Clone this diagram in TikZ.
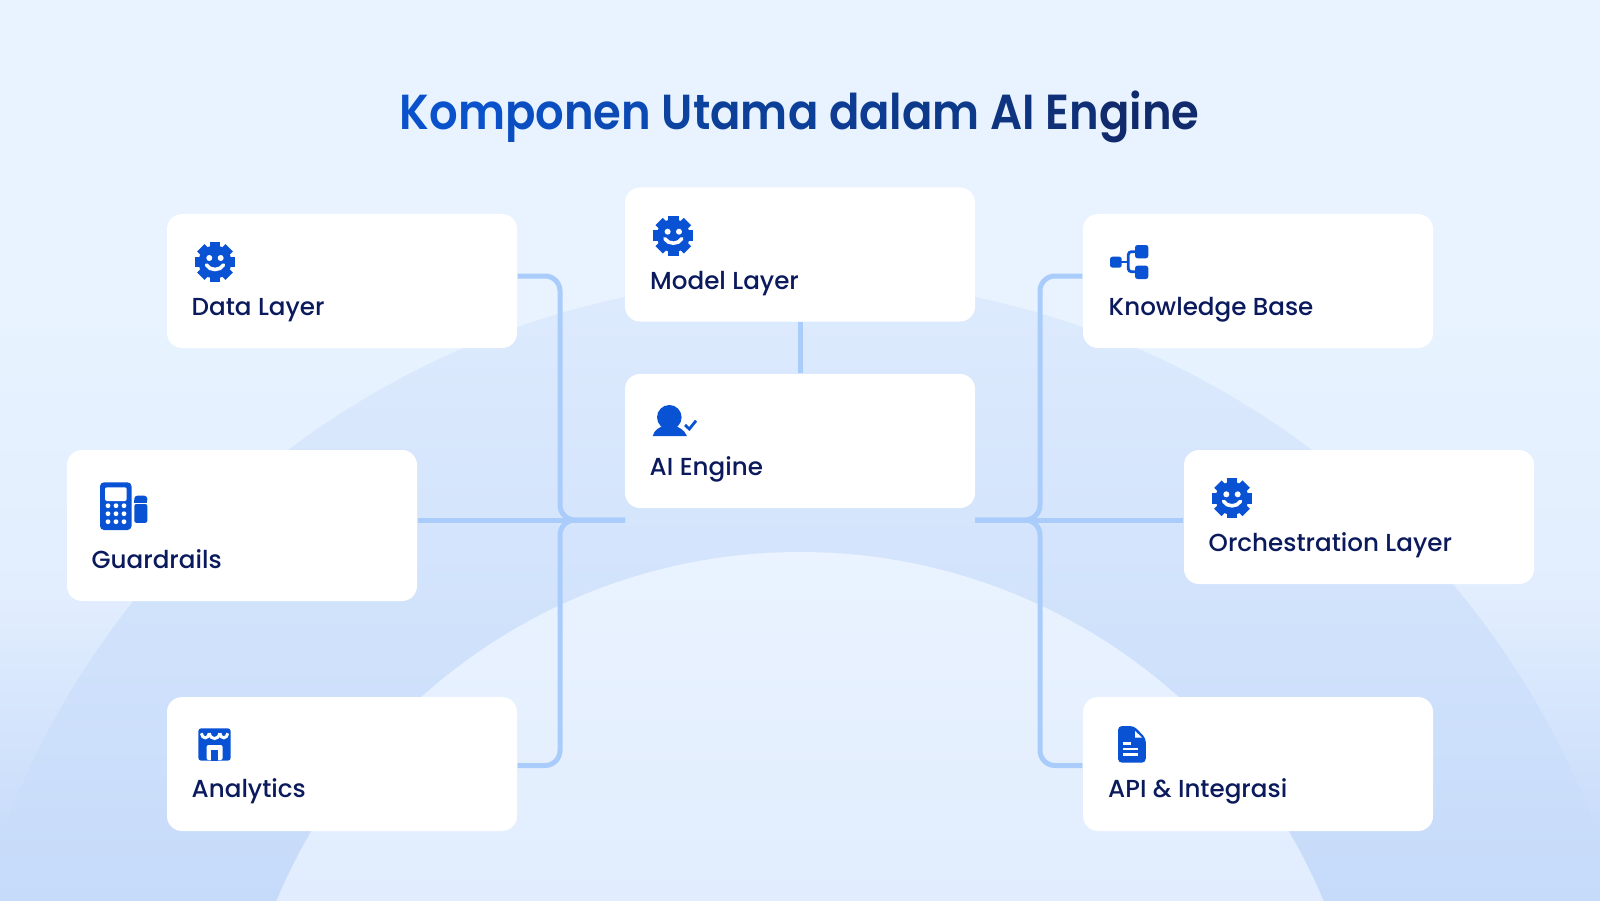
\documentclass[tikz,border=0pt]{standalone}
\usepackage{fontspec}
\setmainfont{Poppins}[UprightFont=* Medium, BoldFont=* SemiBold]
\newfontfamily\titlefont{Poppins SemiBold}[FakeStretch=0.912]
\usetikzlibrary{arrows.meta}

\definecolor{bg_top}{HTML}{E8F3FF}
\definecolor{bg_mid}{HTML}{E2EEFE}
\definecolor{bg_low}{HTML}{C2D7F9}
\definecolor{icon_blue}{HTML}{0A52D4}
\definecolor{text_navy}{HTML}{0B1A5C}
\definecolor{link_blue}{HTML}{A9CCFB}
\definecolor{arc_top}{HTML}{DEEBFD}
\definecolor{arc_mid}{HTML}{D6E6FD}
\definecolor{arc_low}{HTML}{C6DBFA}
\definecolor{dome_top}{HTML}{EAF3FF}
\definecolor{dome_low}{HTML}{E1EDFE}

\pgfdeclareverticalshading{bg_shade}{100bp}{color(0bp)=(bg_low); color(25bp)=(bg_low); color(42bp)=(bg_mid); color(58bp)=(bg_top); color(75bp)=(bg_top); color(100bp)=(bg_top)}

\tikzset{
    gear_icon/.pic={
        \fill[icon_blue] (0,0) circle (.165);
        \foreach \a in {0,45,...,315}
            \fill[icon_blue,rotate=\a] (-.052,.12) rectangle (.052,.2);
        \fill[white] (-.057,.04) circle (.03);
        \fill[white] (.057,.04) circle (.03);
        \draw[white,line width=.036cm,line cap=round] (-.085,-.03) .. controls (-.05,-.09) and (.05,-.09) .. (.085,-.03);
    },
    person_icon/.pic={
        \fill[icon_blue] (0,0) circle (.123);
        \fill[icon_blue] (-.166,-.187) .. controls (-.15,-.12) and (-.09,-.1) .. (-.06,-.085) -- (.06,-.085) .. controls (.09,-.1) and (.15,-.12) .. (.176,-.187) -- cycle;
        \draw[icon_blue,line width=.028cm] (.157,-.077) -- (.2,-.117) -- (.267,-.034);
    },
    calc_icon/.pic={
        \fill[icon_blue,rounded corners=.04cm] (0,0) rectangle (.315,-.477);
        \fill[white,rounded corners=.02cm] (.05,-.05) rectangle (.267,-.187);
        \foreach \x in {.08,.16,.24}
            \foreach \y in {-.234,-.314,-.394}
                \fill[white] (\x,\y) circle (.024);
        \fill[icon_blue,rounded corners=.03cm] (.343,-.205) -- (.343,-.134) -- (.473,-.134) -- (.473,-.205) -- cycle;
        \fill[icon_blue] (.343,-.18) rectangle (.473,-.205);
        \fill[icon_blue,rounded corners=.02cm] (.343,-.217) rectangle (.473,-.405);
    },
    store_icon/.pic={
        \fill[icon_blue,rounded corners=.03cm] (0,0) rectangle (.324,-.324);
        \draw[white,line width=.03cm] (.03,-.05) .. controls (.04,-.11) and (.1,-.11) .. (.11,-.05);
        \draw[white,line width=.03cm] (.11,-.05) .. controls (.125,-.12) and (.2,-.12) .. (.215,-.05);
        \draw[white,line width=.03cm] (.215,-.05) .. controls (.225,-.11) and (.285,-.11) .. (.295,-.05);
        \fill[white,rounded corners=.02cm] (.083,-.317) -- (.083,-.167) -- (.243,-.167) -- (.243,-.317) -- cycle;
        \fill[icon_blue] (.123,-.217) rectangle (.2,-.324);
    },
    tree_icon/.pic={
        \fill[icon_blue,rounded corners=.025cm] (0,-.117) rectangle (.117,-.227);
        \fill[icon_blue,rounded corners=.025cm] (.25,0) rectangle (.383,-.133);
        \fill[icon_blue,rounded corners=.025cm] (.25,-.207) rectangle (.383,-.34);
        \draw[icon_blue,line width=.028cm] (.1,-.17) -- (.183,-.17);
        \draw[icon_blue,line width=.028cm,rounded corners=.03cm] (.25,-.067) -- (.183,-.067) -- (.183,-.267) -- (.25,-.267);
    },
    doc_icon/.pic={
        \fill[icon_blue,rounded corners=.04cm] (0,0) -- (.16,0) -- (.278,-.123) -- (.278,-.367) -- (0,-.367) -- cycle;
        \fill[white] (.17,-.05) -- (.17,-.115) -- (.24,-.115) -- cycle;
        \draw[white,line width=.024cm] (.05,-.173) -- (.125,-.173);
        \draw[white,line width=.024cm] (.05,-.23) -- (.195,-.23);
        \draw[white,line width=.024cm] (.05,-.283) -- (.195,-.283);
    }
}

\begin{document}
\begin{tikzpicture}[
    card/.style={rectangle, fill=white, rounded corners=.15cm, minimum width=3.5cm, minimum height=1.34cm, inner sep=0pt},
    card_text/.style={anchor=base west, inner sep=0pt, text=text_navy, font=\fontsize{7}{9}\selectfont},
    title_text/.style={anchor=base west, inner sep=0pt, font=\titlefont\fontsize{14}{17}\selectfont},
    link_line/.style={draw=link_blue, line width=.05cm, rounded corners=.15cm}
]
    \useasboundingbox (0,0) rectangle (16,9);
    % Background
    \shade[shading=bg_shade] (0,0) rectangle (16,9);
    \begin{scope}
        \clip (8,-2.3) circle (8.51);
        \shade[top color=arc_top, middle color=arc_mid, bottom color=arc_low] (0,0) rectangle (16,6.3);
    \end{scope}
    \begin{scope}
        \clip (8,-2.19) circle (5.67);
        \shade[top color=dome_top, bottom color=dome_low] (0,0) rectangle (16,3.6);
    \end{scope}
    % Title
    \node[title_text] (title) at (3.99,7.705) {\textcolor[HTML]{0A52CC}{Kom}\textcolor[HTML]{0A4EC2}{po}\textcolor[HTML]{0B49B4}{nen} \textcolor[HTML]{0C439F}{Ut}\textcolor[HTML]{0C3F98}{ama} \textcolor[HTML]{0D3C92}{da}\textcolor[HTML]{0D398B}{lam} \textcolor[HTML]{0E3480}{AI} \textcolor[HTML]{0F3076}{En}\textcolor[HTML]{102A6C}{gine}};
    % Cards
    \node[card] (data) at (3.42,6.19) {};
    \node[card] (model) at (8,6.455) {};
    \node[card] (engine) at (8,4.59) {};
    \node[card, minimum height=1.51cm] (guard) at (2.42,3.745) {};
    \node[card] (analytics) at (3.42,1.36) {};
    \node[card] (knowledge) at (12.58,6.19) {};
    \node[card] (orch) at (13.59,3.83) {};
    \node[card] (api) at (12.58,1.36) {};
    % Labels
    \node[card_text] (data_text) at (1.91,5.85) {Data Layer};
    \node[card_text] (model_text) at (6.495,6.11) {Model Layer};
    \node[card_text] (engine_text) at (6.49,4.25) {AI Engine};
    \node[card_text] (guard_text) at (.91,3.317) {Guardrails};
    \node[card_text] (analytics_text) at (1.91,1.025) {Analytics};
    \node[card_text] (knowledge_text) at (11.08,5.85) {Knowledge Base};
    \node[card_text] (orch_text) at (12.08,3.49) {Orchestration Layer};
    \node[card_text] (api_text) at (11.075,1.023) {API \& Integrasi};
    % Icons
    \pic at (2.15,6.38) {gear_icon};
    \pic at (6.733,6.643) {gear_icon};
    \pic at (12.32,4.017) {gear_icon};
    \pic at (6.693,4.827) {person_icon};
    \pic at (1,4.177) {calc_icon};
    \pic at (1.983,1.717) {store_icon};
    \pic at (11.1,6.55) {tree_icon};
    \pic at (11.18,1.74) {doc_icon};
    % Junctions
    \coordinate (hub_l) at (6.25,3.8);
    \coordinate (hub_r) at (9.75,3.8);
    \coordinate (bus_l) at (5.6,3.8);
    \coordinate (bus_r) at (10.4,3.8);
    % Links
    \draw[link_line] (model) -- (engine);
    \draw[link_line] ([yshift=.05cm]data.east) -| (bus_l) -- (hub_l);
    \draw[link_line] ([yshift=-.015cm]analytics.east) -| (bus_l) -- (hub_l);
    \draw[link_line] (guard.east |- hub_l) -- (hub_l);
    \draw[link_line] ([yshift=.05cm]knowledge.west) -| (bus_r) -- (hub_r);
    \draw[link_line] ([yshift=-.015cm]api.west) -| (bus_r) -- (hub_r);
    \draw[link_line] (orch.west |- hub_r) -- (hub_r);
\end{tikzpicture}
\end{document}
